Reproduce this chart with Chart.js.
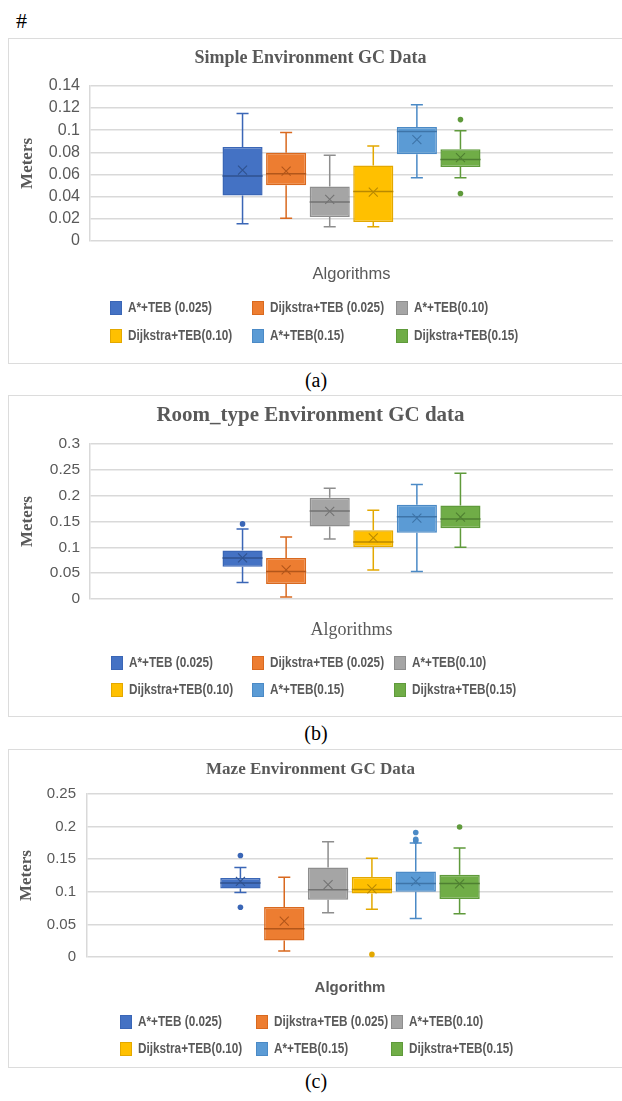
<!DOCTYPE html>
<html>
<head>
<meta charset="utf-8">
<script src="https://cdn.jsdelivr.net/npm/chart.js@4.4.1/dist/chart.umd.min.js"></script>
<style>
  html, body { margin: 0; padding: 0; background: #fff; overflow: hidden; }
  body { width: 622px; height: 1101px; position: relative; }
  .frame { position: absolute; left: 8px; width: 620px; border: 1.5px solid #dcdcdc; box-sizing: border-box; }
  .panel { position: absolute; left: 8px; }
  .cap { position: absolute; left: 0; width: 632px; text-align: center; font-family: "Liberation Serif", serif; font-size: 20px; line-height: 24px; color: #000; }
  #hash { position: absolute; left: 16px; top: 10px; font-family: "Liberation Serif", serif; font-size: 22px; line-height: 22px; color: #000; }
</style>
</head>
<body>
<div id="hash">#</div>

<div class="frame" style="top:38px;height:326px"></div>
<canvas id="chartA" class="panel" width="614" height="326" style="top:38px"></canvas>
<div class="cap" style="top:368px">(a)</div>

<div class="frame" style="top:395px;height:322px"></div>
<canvas id="chartB" class="panel" width="614" height="322" style="top:395px"></canvas>
<div class="cap" style="top:721px">(b)</div>

<div class="frame" style="top:749px;height:319px"></div>
<canvas id="chartC" class="panel" width="614" height="319" style="top:749px"></canvas>
<div class="cap" style="top:1069px">(c)</div>

<script>
const seriesNames = ['A*+TEB (0.025)', 'Dijkstra+TEB (0.025)', 'A*+TEB(0.10)', 'Dijkstra+TEB(0.10)', 'A*+TEB(0.15)', 'Dijkstra+TEB(0.15)'];

// Simple environment
const simpleMin     = [0.0155, 0.0205, 0.0128, 0.0128, 0.0570, 0.0570];
const simpleQ1      = [0.0410, 0.0502, 0.0216, 0.0171, 0.0783, 0.0668];
const simpleMedian  = [0.0586, 0.0606, 0.0351, 0.0447, 0.0987, 0.0735];
const simpleQ3      = [0.0848, 0.0797, 0.0492, 0.0682, 0.1028, 0.0828];
const simpleMax     = [0.1150, 0.0979, 0.0773, 0.0858, 0.1228, 0.0994];
const simpleMean    = [0.0640, 0.0630, 0.0376, 0.0441, 0.0915, 0.0752];
const simpleOutliers = [[], [], [], [], [], [0.1095, 0.0428]];

// Room_type environment
const roomMin     = [0.0320, 0.0040, 0.1160, 0.0560, 0.0530, 0.1002];
const roomQ1      = [0.0626, 0.0290, 0.1405, 0.1008, 0.1280, 0.1370];
const roomMedian  = [0.0795, 0.0534, 0.1705, 0.1103, 0.1590, 0.1550];
const roomQ3      = [0.0940, 0.0793, 0.1958, 0.1333, 0.1825, 0.1808];
const roomMax     = [0.1356, 0.1202, 0.2142, 0.1720, 0.2217, 0.2432];
const roomMean    = [0.0798, 0.0563, 0.1697, 0.1184, 0.1566, 0.1584];
const roomOutliers = [[0.1454], [], [], [], [], []];

// Maze environment
const mazeMin     = [0.0990, 0.0091, 0.0677, 0.0732, 0.0590, 0.0662];
const mazeQ1      = [0.1050, 0.0253, 0.0879, 0.0975, 0.1000, 0.0889];
const mazeMedian  = [0.1136, 0.0434, 0.1030, 0.1035, 0.1126, 0.1126];
const mazeQ3      = [0.1212, 0.0768, 0.1374, 0.1227, 0.1313, 0.1260];
const mazeMax     = [0.1374, 0.1222, 0.1768, 0.1515, 0.1750, 0.1670];
const mazeMean    = [0.1160, 0.0550, 0.1110, 0.1045, 0.1160, 0.1120];
const mazeOutliers = [[0.1556, 0.0763], [], [], [0.004], [0.1910, 0.1805, 0.1780], [0.1995]];

const fillColors = ['#4472C4', '#ED7D31', '#A5A5A5', '#FFC000', '#5B9BD5', '#70AD47'];
const lineColors = ['#3A66B6', '#D9691F', '#8E8E8E', '#E3A800', '#4B8AC6', '#5F9A3B'];
const markColors = ['#2F528F', '#B2561A', '#737373', '#B98900', '#3E74A8', '#4E7F31'];
const textGray = '#595959';

// whiskers, median, mean cross and outlier dots on top of the floating bars
const boxWhiskers = {
  id: 'boxWhiskers',
  afterDatasetsDraw(chart, args, opts) {
    const ctx = chart.ctx;
    const ys = chart.scales.y;
    const s = opts.stats;
    const py = v => ys.getPixelForValue(v);
    chart.data.datasets.forEach((ds, i) => {
      const bar = chart.getDatasetMeta(i).data[0];
      const x = bar.x, w = bar.width;
      const cap = w * 0.15;
      ctx.save();
      ctx.strokeStyle = lineColors[i];
      ctx.lineWidth = 1.5;
      ctx.beginPath();
      ctx.moveTo(x, py(s.q3[i])); ctx.lineTo(x, py(s.max[i]));
      ctx.moveTo(x, py(s.q1[i])); ctx.lineTo(x, py(s.min[i]));
      ctx.moveTo(x - cap, py(s.max[i])); ctx.lineTo(x + cap, py(s.max[i]));
      ctx.moveTo(x - cap, py(s.min[i])); ctx.lineTo(x + cap, py(s.min[i]));
      ctx.stroke();

      ctx.strokeStyle = markColors[i];
      ctx.beginPath();
      ctx.moveTo(x - w / 2, py(s.median[i])); ctx.lineTo(x + w / 2, py(s.median[i]));
      ctx.stroke();

      const m = py(s.mean[i]), r = 4.5;
      ctx.lineWidth = 1.1;
      ctx.beginPath();
      ctx.moveTo(x - r, m - r); ctx.lineTo(x + r, m + r);
      ctx.moveTo(x + r, m - r); ctx.lineTo(x - r, m + r);
      ctx.stroke();

      ctx.fillStyle = lineColors[i];
      s.outliers[i].forEach(v => {
        ctx.beginPath();
        ctx.arc(x, py(v), 2.8, 0, Math.PI * 2);
        ctx.fill();
      });
      ctx.restore();
    });
  }
};

// legend laid out as a 3 x 2 grid like the original, text squeezed to a narrow face
const gridLegend = {
  id: 'gridLegend',
  afterDraw(chart, args, opts) {
    const ctx = chart.ctx;
    const squeeze = 0.84;
    chart.data.datasets.forEach((ds, i) => {
      const x = opts.cols[i % 3];
      const y = opts.rows[Math.floor(i / 3)];
      ctx.save();
      ctx.fillStyle = fillColors[i];
      ctx.fillRect(x, y - 7, 12, 14);
      ctx.strokeStyle = lineColors[i];
      ctx.lineWidth = 1;
      ctx.strokeRect(x + 0.5, y - 6.5, 11, 13);
      ctx.translate(x + 18, y + 0.5);
      ctx.scale(squeeze, 1);
      ctx.font = 'bold 14px "Liberation Sans", Arial, sans-serif';
      ctx.textBaseline = 'middle';
      ctx.textAlign = 'left';
      ctx.fillStyle = textGray;
      ctx.fillText(ds.label, 0, 0);
      ctx.restore();
    });
  }
};

function buildChart(id, stats, look) {
  return new Chart(document.getElementById(id), {
    type: 'bar',
    data: {
      labels: [''],
      datasets: seriesNames.map((name, i) => ({
        label: name,
        data: [[stats.q1[i], stats.q3[i]]],
        backgroundColor: fillColors[i],
        borderColor: lineColors[i],
        borderWidth: 1.5,
        borderSkipped: false,
        categoryPercentage: 0.5,
        barPercentage: 0.92
      }))
    },
    options: {
      responsive: false,
      animation: false,
      events: [],
      layout: { padding: { left: 0, top: 0, right: 9, bottom: look.padBottom } },
      plugins: {
        legend: { display: false },
        tooltip: { enabled: false },
        title: {
          display: true,
          text: look.title,
          color: textGray,
          font: { family: '"Liberation Serif", serif', size: look.titleSize, weight: 'bold' },
          padding: look.titlePad
        },
        boxWhiskers: { stats: stats },
        gridLegend: { cols: look.legendCols, rows: look.legendRows }
      },
      scales: {
        x: {
          grid: { display: false },
          border: { display: false },
          ticks: { display: false },
          title: { display: true, text: look.xTitle, color: textGray, font: look.xFont, padding: 0 },
          afterFit: s => { s.height = look.xHeight; }
        },
        y: {
          min: 0,
          max: look.yMax,
          ticks: {
            stepSize: look.yStep,
            autoSkip: false,
            padding: look.tickPad,
            color: textGray,
            font: { family: '"Liberation Sans", sans-serif', size: look.tickSize },
            callback: v => String(+v.toFixed(3))
          },
          grid: { color: '#d9d9d9', lineWidth: 1.5, drawTicks: false },
          border: { display: true, color: '#d9d9d9', width: 1.5 },
          title: {
            display: true,
            text: 'Meters',
            color: textGray,
            font: { family: '"Liberation Serif", serif', size: 17, weight: 'bold' },
            padding: { top: look.meterPad, bottom: 0 }
          },
          afterFit: s => { s.width = look.plotLeft; }
        }
      }
    },
    plugins: [boxWhiskers, gridLegend]
  });
}

buildChart('chartA',
  { min: simpleMin, q1: simpleQ1, median: simpleMedian, q3: simpleQ3, max: simpleMax, mean: simpleMean, outliers: simpleOutliers },
  {
    title: 'Simple Environment GC Data', titleSize: 18, titlePad: { top: 9.2, bottom: 17 },
    xTitle: 'Algorithms', xFont: { family: '"Liberation Sans", sans-serif', size: 16.5 },
    padBottom: 80, xHeight: 43, yMax: 0.14, yStep: 0.02, tickSize: 16, tickPad: 10,
    plotLeft: 82, meterPad: 9.8, legendCols: [102, 244, 388], legendRows: [270, 298]
  });

buildChart('chartB',
  { min: roomMin, q1: roomQ1, median: roomMedian, q3: roomQ3, max: roomMax, mean: roomMean, outliers: roomOutliers },
  {
    title: 'Room_type Environment GC data', titleSize: 21, titlePad: { top: 8.4, bottom: 15.4 },
    xTitle: 'Algorithms', xFont: { family: '"Liberation Serif", serif', size: 18 },
    padBottom: 76, xHeight: 42, yMax: 0.3, yStep: 0.05, tickSize: 15.5, tickPad: 10,
    plotLeft: 82, meterPad: 9.3, legendCols: [103, 244, 386], legendRows: [268, 295]
  });

buildChart('chartC',
  { min: mazeMin, q1: mazeQ1, median: mazeMedian, q3: mazeQ3, max: mazeMax, mean: mazeMean, outliers: mazeOutliers },
  {
    title: 'Maze Environment GC Data', titleSize: 17, titlePad: { top: 10.8, bottom: 13.8 },
    xTitle: 'Algorithm', xFont: { family: '"Liberation Sans", sans-serif', size: 15, weight: 'bold' },
    padBottom: 71, xHeight: 40, yMax: 0.25, yStep: 0.05, tickSize: 15, tickPad: 11,
    plotLeft: 79, meterPad: 8.8, legendCols: [112, 248, 383], legendRows: [273, 300]
  });
</script>
</body>
</html>
